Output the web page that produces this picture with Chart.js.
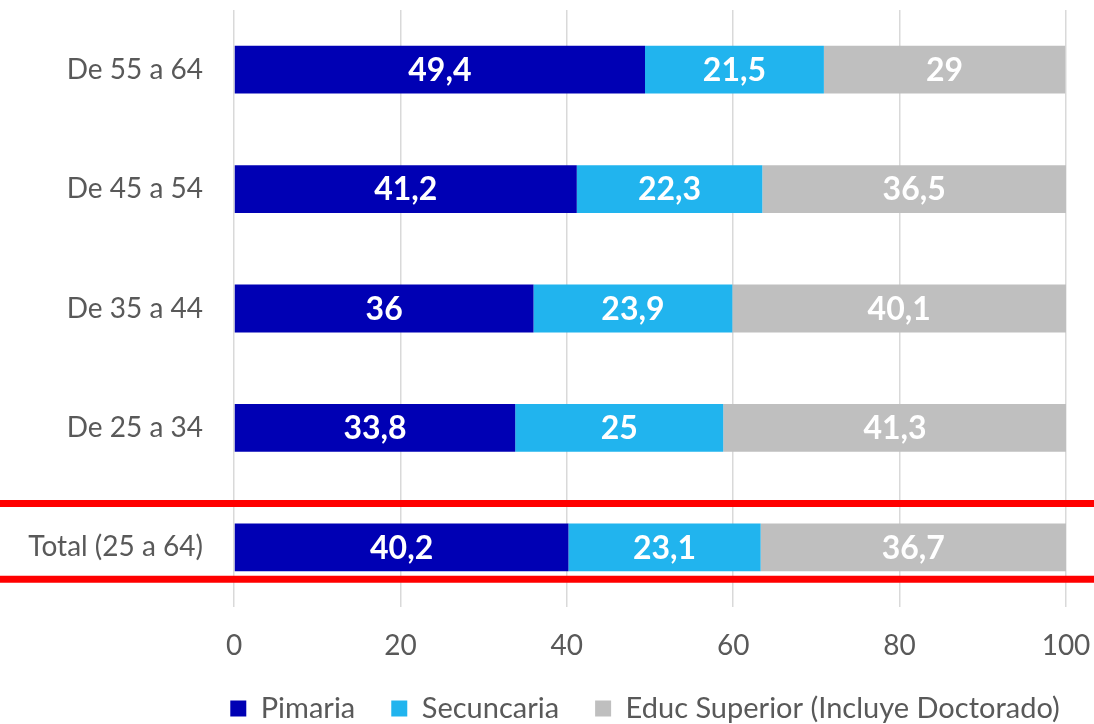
<!DOCTYPE html>
<html>
<head>
<meta charset="utf-8">
<script src="https://cdn.jsdelivr.net/npm/chart.js@4"></script>
<style>
    html, body { margin: 0; padding: 0; background: #fff; }
    #wrap { width: 1094px; height: 724px; }
</style>
</head>
<body>
<div id="wrap"><canvas id="eduChart" width="1094" height="724"></canvas></div>
<script>
const categories = ['De 55 a 64', 'De 45 a 54', 'De 35 a 44', 'De 25 a 34', 'Total (25 a 64)'];
const primaria = [49.4, 41.2, 36, 33.8, 40.2];
const secundaria = [21.5, 22.3, 23.9, 25, 23.1];
const superior = [29, 36.5, 40.1, 41.3, 36.7];
const seriesNames = ['Pimaria', 'Secuncaria', 'Educ Superior (Incluye Doctorado)'];
const xTicks = [0, 20, 40, 60, 80, 100];

const FONT = 'Lato, "Open Sans", sans-serif';

// White bold value labels in the middle of each segment
const valueLabels = {
    id: 'valueLabels',
    afterDatasetsDraw(chart) {
        const ctx = chart.ctx;
        ctx.save();
        ctx.fillStyle = '#ffffff';
        ctx.font = 'bold 32px ' + FONT;
        ctx.textAlign = 'center';
        ctx.textBaseline = 'middle';
        chart.data.datasets.forEach((ds, i) => {
            const meta = chart.getDatasetMeta(i);
            meta.data.forEach((bar, j) => {
                const text = String(ds.data[j]).replace('.', ',');
                ctx.fillText(text, (bar.x + bar.base) / 2, bar.y + 1);
            });
        });
        ctx.restore();
    }
};

// Red lines framing the total row
const totalFrame = {
    id: 'totalFrame',
    afterDraw(chart) {
        const bar = chart.getDatasetMeta(0).data[categories.length - 1];
        if (!bar) return;
        const ctx = chart.ctx;
        const top = bar.y - bar.height / 2 - 20;
        const bottom = bar.y + bar.height / 2 + 8;
        ctx.save();
        ctx.strokeStyle = '#FF0000';
        ctx.lineWidth = 7;
        [top, bottom].forEach(y => {
            ctx.beginPath();
            ctx.moveTo(0, y);
            ctx.lineTo(chart.width, y);
            ctx.stroke();
        });
        ctx.restore();
    }
};

// Legend sits right of centre in the original
const legendShift = {
    id: 'legendShift',
    afterLayout(chart) {
        chart.legend.left += 112;
        chart.legend.right += 112;
    }
};

const noPad = (scale) => {
    scale.paddingTop = 0;
    scale.paddingBottom = 0;
    scale.paddingLeft = 0;
    scale.paddingRight = 0;
};

new Chart(document.getElementById('eduChart').getContext('2d'), {
    type: 'bar',
    data: {
        labels: categories,
        datasets: [
            { label: seriesNames[0], data: primaria, backgroundColor: '#0000B4' },
            { label: seriesNames[1], data: secundaria, backgroundColor: '#21B4EE' },
            { label: seriesNames[2], data: superior, backgroundColor: '#BFBFBF' }
        ]
    },
    options: {
        indexAxis: 'y',
        responsive: false,
        animation: false,
        categoryPercentage: 0.4,
        barPercentage: 1,
        layout: { padding: { top: 10, right: 28, bottom: -9, left: 0 } },
        scales: {
            x: {
                stacked: true,
                min: 0,
                max: 100,
                afterBuildTicks(scale) {
                    scale.ticks = xTicks.map(v => ({ value: v }));
                },
                afterFit(scale) { scale.height = 51; noPad(scale); },
                grid: { color: '#D9D9D9', lineWidth: 1.5, drawTicks: false },
                border: { display: false },
                ticks: {
                    padding: 22,
                    color: '#595959',
                    font: { family: FONT, size: 28 }
                }
            },
            y: {
                stacked: true,
                afterFit(scale) { scale.width = 234; noPad(scale); },
                grid: { display: false, drawTicks: false },
                border: { display: false },
                ticks: {
                    padding: 31,
                    color: '#595959',
                    font: { family: FONT, size: 28 }
                }
            }
        },
        plugins: {
            legend: {
                position: 'bottom',
                labels: {
                    boxWidth: 16,
                    boxHeight: 16,
                    padding: 36,
                    color: '#595959',
                    font: { family: FONT, size: 29 }
                }
            },
            tooltip: { enabled: false }
        }
    },
    plugins: [valueLabels, totalFrame, legendShift]
});
</script>
</body>
</html>
